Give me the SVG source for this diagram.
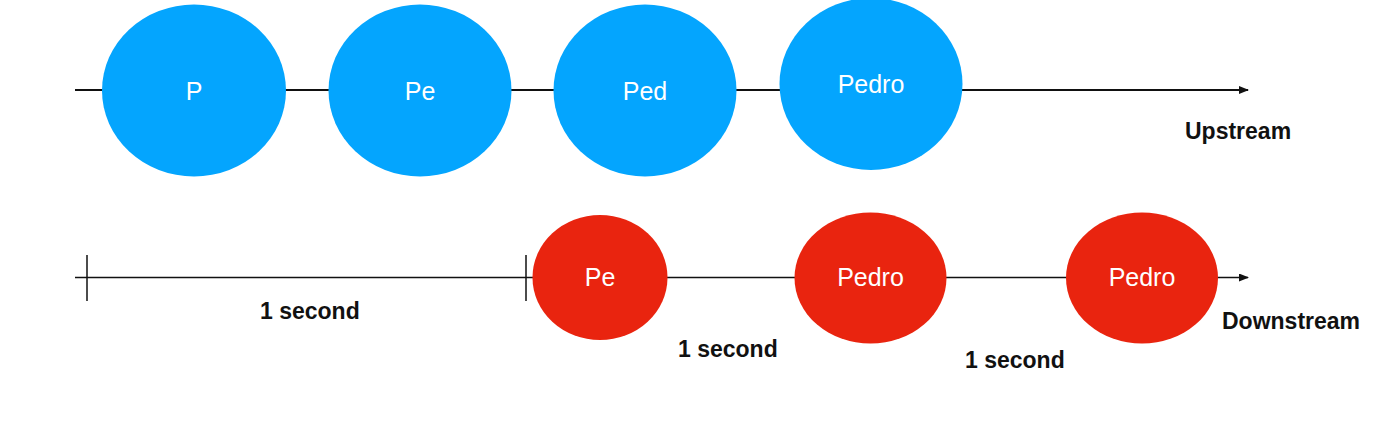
<svg xmlns="http://www.w3.org/2000/svg" width="1400" height="434" viewBox="0 0 1400 434">
<style>
.blue{fill:#04A5FE}
.red{fill:#E9240F}
.nl{font-family:"Liberation Sans",Arial,sans-serif;font-size:25px;fill:#fff;text-anchor:middle}
.lbl{font-family:"Liberation Sans",Arial,sans-serif;font-size:23px;font-weight:bold;fill:#111}
.ln{stroke:#111;fill:none}
</style>
<defs>
<marker id="ah" markerWidth="10" markerHeight="8" refX="9" refY="4" orient="auto" markerUnits="userSpaceOnUse">
<path d="M0,0 L10,4 L0,8 Z" fill="#111"/>
</marker>
</defs>
<rect width="1400" height="434" fill="#fff"/>
<g id="connectors">
<line class="ln" x1="75" y1="90" x2="1248" y2="90" stroke-width="1.8" marker-end="url(#ah)"/>
<line class="ln" x1="75" y1="277.5" x2="1248" y2="277.5" stroke-width="1.3" marker-end="url(#ah)"/>
<line class="ln" x1="87" y1="255" x2="87" y2="301" stroke-width="1.5"/>
<line class="ln" x1="526" y1="255" x2="526" y2="301" stroke-width="1.5"/>
</g>
<g id="up-P"><ellipse class="blue" cx="194" cy="90.5" rx="92" ry="86"/><text class="nl" x="194" y="100">P</text></g>
<g id="up-Pe"><ellipse class="blue" cx="420" cy="90.5" rx="91.5" ry="86"/><text class="nl" x="420" y="100">Pe</text></g>
<g id="up-Ped"><ellipse class="blue" cx="645" cy="90.5" rx="91.5" ry="86"/><text class="nl" x="645" y="100">Ped</text></g>
<g id="up-Pedro"><ellipse class="blue" cx="871" cy="84" rx="91.5" ry="86"/><text class="nl" x="871" y="93">Pedro</text></g>
<g id="down-Pe"><ellipse class="red" cx="600" cy="277.5" rx="67.5" ry="62.5"/><text class="nl" x="600" y="286">Pe</text></g>
<g id="down-Pedro1"><ellipse class="red" cx="870.5" cy="278" rx="76" ry="65.5"/><text class="nl" x="870.5" y="286">Pedro</text></g>
<g id="down-Pedro2"><ellipse class="red" cx="1142" cy="278" rx="76" ry="65.5"/><text class="nl" x="1142" y="286">Pedro</text></g>
<g id="labels">
<text class="lbl" x="1185" y="139">Upstream</text>
<text class="lbl" x="1222" y="329">Downstream</text>
<text class="lbl" x="260" y="319">1 second</text>
<text class="lbl" x="678" y="357">1 second</text>
<text class="lbl" x="965" y="368">1 second</text>
</g>
</svg>
